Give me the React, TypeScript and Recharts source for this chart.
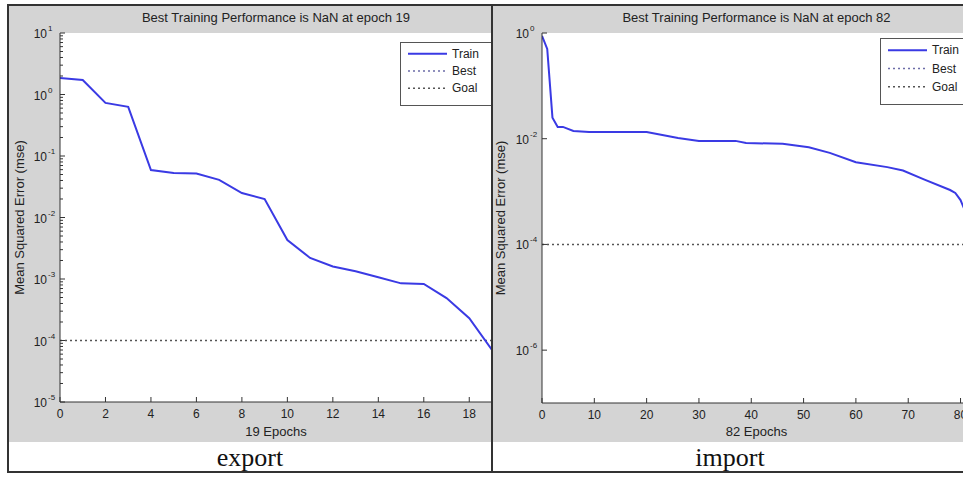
import React from "react";
import { LineChart, Line, XAxis, YAxis, CartesianGrid, ReferenceLine, Legend } from "recharts";

// export network training record
const exportEpochs = [0, 1, 2, 3, 4, 5, 6, 7, 8, 9, 10, 11, 12, 13, 14, 15, 16, 17, 18, 19];
const exportMse = [
  1.85, 1.72, 0.73, 0.63, 0.059, 0.053, 0.052, 0.041, 0.025, 0.02, 0.0043, 0.0022, 0.0016, 0.00134,
  0.00107, 0.00085, 0.00083, 0.00049, 0.00023, 0.00007,
];

// import network training record
const importEpochs = [0, 1, 2, 3, 4, 6, 9, 20, 23, 26, 30, 37, 39, 46, 51, 55, 60, 66, 69, 73, 78, 79, 80, 81, 82];
const importMse = [
  0.88, 0.5, 0.025, 0.0167, 0.0167, 0.014, 0.0134, 0.0134, 0.0118, 0.0103, 0.0091, 0.0091, 0.0083, 0.008,
  0.0069, 0.0054, 0.0036, 0.0029, 0.0025, 0.0017, 0.00107, 0.00094, 0.00069, 0.0004, 0.0002,
];

const goalMse = 1e-4;

const exportXTicks = [0, 2, 4, 6, 8, 10, 12, 14, 16, 18];
const importXTicks = [0, 10, 20, 30, 40, 50, 60, 70, 80];
const exportYTicks = [1e-5, 1e-4, 1e-3, 1e-2, 1e-1, 1e0, 1e1];
const importYTicks = [1e-6, 1e-4, 1e-2, 1e0];
const minorSteps = [2, 3, 4, 5, 6, 7, 8, 9];

const legendItems = [
  { name: "Train", color: "#3a3ae4", dash: undefined as string | undefined, width: 2 },
  { name: "Best", color: "#6c6ca8", dash: "2 3", width: 1.5 },
  { name: "Goal", color: "#555555", dash: "2 3", width: 1.5 },
];

const FONT = '"Liberation Sans", Arial, Helvetica, sans-serif';
const AXIS = "#333";
const PANEL_BG = "#d4d4d4";
const TEXT = "#222";

const isDecade = (v: number) => Math.abs(Math.log10(v) - Math.round(Math.log10(v))) < 1e-6;

function BottomTick(props: any) {
  const { x, y, payload } = props;
  return (
    <g>
      <line x1={x} y1={y} x2={x} y2={y - 5} stroke={AXIS} />
      <text x={x} y={y + 16} textAnchor="middle" fontSize={12} fontFamily={FONT} fill={TEXT}>
        {payload.value}
      </text>
    </g>
  );
}

function TopTick(props: any) {
  const { x, y } = props;
  return <line x1={x} y1={y} x2={x} y2={y + 5} stroke={AXIS} />;
}

function LeftTick(props: any) {
  const { x, y, payload } = props;
  const v = payload.value;
  if (!isDecade(v)) return <line x1={x} y1={y} x2={x + 3} y2={y} stroke={AXIS} />;
  const exp = Math.round(Math.log10(v));
  return (
    <g>
      <line x1={x} y1={y} x2={x + 5} y2={y} stroke={AXIS} />
      <text x={x - 13} y={y + 5} textAnchor="end" fontSize={12} fontFamily={FONT} fill={TEXT}>
        10
      </text>
      <text x={x - 12} y={y - 2} textAnchor="start" fontSize={8} fontFamily={FONT} fill={TEXT}>
        {exp}
      </text>
    </g>
  );
}

function RightTick(props: any) {
  const { x, y, payload } = props;
  const len = isDecade(payload.value) ? 5 : 3;
  return <line x1={x} y1={y} x2={x - len} y2={y} stroke={AXIS} />;
}

function LegendBox({ height }: { height: number }) {
  const step = (height - 12) / 3;
  return (
    <div style={{ width: 100, height, boxSizing: "border-box", border: "1px solid #555", background: "#fff" }}>
      <svg width={98} height={height - 2}>
        {legendItems.map((it, i) => {
          const cy = 11 + i * step + step / 2 - 9;
          return (
            <g key={it.name}>
              <line x1={7} x2={46} y1={cy} y2={cy} stroke={it.color} strokeWidth={it.width} strokeDasharray={it.dash} />
              <text x={51} y={cy + 4} fontSize={12} fontFamily={FONT} fill={TEXT}>
                {it.name}
              </text>
            </g>
          );
        })}
      </svg>
    </div>
  );
}

interface PanelProps {
  left: number;
  width: number;
  chartWidth: number;
  axisWidth: number;
  rightMargin: number;
  bottomAxisHeight: number;
  title: string;
  xLabel: string;
  epochs: number[];
  mse: number[];
  xDomain: [number, number];
  xTicks: number[];
  yDomain: [number, number];
  yTicks: number[];
  legendLeft: number;
  legendTop: number;
  legendHeight: number;
  yLabelOffset: number;
}

function Panel(p: PanelProps) {
  const data = p.epochs.map((e, i) => ({ epoch: e, train: p.mse[i] }));
  const plotWidth = p.chartWidth - p.axisWidth - p.rightMargin;
  return (
    <div
      style={{
        position: "absolute",
        left: p.left,
        top: 6,
        width: p.width,
        height: 436,
        background: PANEL_BG,
        overflow: "hidden",
      }}
    >
      <div
        style={{
          position: "absolute",
          left: p.axisWidth,
          width: plotWidth,
          top: 3,
          height: 18,
          lineHeight: "18px",
          textAlign: "center",
          fontSize: 13,
          fontFamily: FONT,
          color: TEXT,
          whiteSpace: "nowrap",
        }}
      >
        {p.title}
      </div>
      <LineChart width={p.chartWidth} height={436} data={data} margin={{ top: 27, right: p.rightMargin, bottom: 0, left: 0 }}>
        <CartesianGrid fill="#fff" horizontal={false} vertical={false} />
        <XAxis
          xAxisId={0}
          dataKey="epoch"
          type="number"
          domain={p.xDomain}
          ticks={p.xTicks}
          allowDataOverflow
          height={p.bottomAxisHeight}
          tickSize={0}
          tickMargin={0}
          tickLine={false}
          axisLine={{ stroke: AXIS }}
          tick={<BottomTick />}
          interval={0}
          label={{ value: p.xLabel, position: "insideBottom", offset: 6, fontSize: 13, fontFamily: FONT, fill: TEXT }}
        />
        <XAxis
          xAxisId={1}
          orientation="top"
          type="number"
          domain={p.xDomain}
          ticks={p.xTicks}
          allowDataOverflow
          height={0}
          tickSize={0}
          tickMargin={0}
          tickLine={false}
          axisLine={{ stroke: AXIS }}
          tick={<TopTick />}
          interval={0}
        />
        <YAxis
          yAxisId={0}
          scale="log"
          type="number"
          domain={p.yDomain}
          ticks={p.yTicks}
          allowDataOverflow
          width={p.axisWidth}
          tickSize={0}
          tickMargin={0}
          tickLine={false}
          axisLine={{ stroke: AXIS }}
          tick={<LeftTick />}
          interval={0}
          label={{
            value: "Mean Squared Error  (mse)",
            angle: -90,
            position: "insideLeft",
            offset: p.yLabelOffset,
            fontSize: 13,
            fontFamily: FONT,
            fill: TEXT,
            style: { textAnchor: "middle" },
          }}
        />
        <YAxis
          yAxisId={1}
          orientation="right"
          scale="log"
          type="number"
          domain={p.yDomain}
          ticks={p.yTicks}
          allowDataOverflow
          width={0}
          tickSize={0}
          tickMargin={0}
          tickLine={false}
          axisLine={{ stroke: AXIS }}
          tick={<RightTick />}
          interval={0}
        />
        <ReferenceLine y={goalMse} stroke="#555" strokeWidth={1.5} strokeDasharray="2 3" />
        <Line
          dataKey="train"
          stroke={legendItems[0].color}
          strokeWidth={2}
          dot={false}
          activeDot={false}
          isAnimationActive={false}
        />
        <Legend
          layout="vertical"
          align="center"
          verticalAlign="middle"
          wrapperStyle={{ top: p.legendTop, left: p.legendLeft, width: 100, height: p.legendHeight }}
          content={() => <LegendBox height={p.legendHeight} />}
        />
      </LineChart>
    </div>
  );
}

function withMinors(majors: number[]) {
  const out: number[] = [];
  majors.forEach((m, i) => {
    out.push(m);
    if (i < majors.length - 1) minorSteps.forEach((s) => out.push(m * s));
  });
  return out;
}

export default function App() {
  return (
    <div
      style={{
        position: "absolute",
        left: 0,
        top: 0,
        width: 963,
        height: 477,
        overflow: "hidden",
        background: "#fff",
        fontFamily: FONT,
      }}
    >
      <div
        style={{
          position: "absolute",
          left: 7,
          top: 4,
          width: 980,
          height: 469,
          border: "2px solid #333",
          boxSizing: "border-box",
        }}
      />
      <Panel
        left={9}
        width={484}
        chartWidth={493}
        axisWidth={51}
        rightMargin={10}
        bottomAxisHeight={40}
        title="Best Training Performance is NaN at epoch 19"
        xLabel="19 Epochs"
        epochs={exportEpochs}
        mse={exportMse}
        xDomain={[0, 19]}
        xTicks={exportXTicks}
        yDomain={[1e-5, 1e1]}
        yTicks={withMinors(exportYTicks)}
        legendLeft={391}
        legendTop={36}
        legendHeight={64}
        yLabelOffset={10}
      />
      <Panel
        left={493}
        width={470}
        chartWidth={498}
        axisWidth={49}
        rightMargin={20}
        bottomAxisHeight={39}
        title="Best Training Performance is NaN at epoch 82"
        xLabel="82 Epochs"
        epochs={importEpochs}
        mse={importMse}
        xDomain={[0, 82]}
        xTicks={importXTicks}
        yDomain={[1e-7, 1e0]}
        yTicks={importYTicks}
        legendLeft={387}
        legendTop={32}
        legendHeight={67}
        yLabelOffset={7}
      />
      <div style={{ position: "absolute", left: 491, top: 5, width: 2, height: 467, background: "#333" }} />
      <div
        style={{
          position: "absolute",
          left: 150,
          width: 200,
          top: 443,
          height: 30,
          lineHeight: "30px",
          textAlign: "center",
          fontFamily: '"Liberation Serif", "Times New Roman", serif',
          fontSize: 26,
          color: "#111",
        }}
      >
        export
      </div>
      <div
        style={{
          position: "absolute",
          left: 630,
          width: 200,
          top: 443,
          height: 30,
          lineHeight: "30px",
          textAlign: "center",
          fontFamily: '"Liberation Serif", "Times New Roman", serif',
          fontSize: 26,
          color: "#111",
        }}
      >
        import
      </div>
    </div>
  );
}
